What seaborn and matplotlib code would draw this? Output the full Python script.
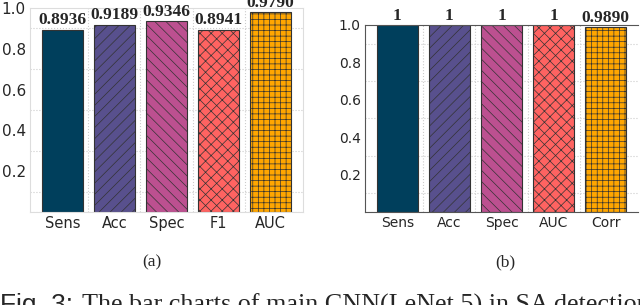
import matplotlib
matplotlib.use("Agg")
import numpy as np
import pandas as pd
import seaborn as sns
import matplotlib.pyplot as plt
from matplotlib.ticker import MultipleLocator, FixedLocator

sns.set_style("white")

# data
metrics_a = ["Sens", "Acc", "Spec", "F1", "AUC"]
values_a = [0.8936, 0.9189, 0.9346, 0.8941, 0.9790]
labels_a = ["0.8936", "0.9189", "0.9346", "0.8941", "0.9790"]

metrics_b = ["Sens", "Acc", "Spec", "AUC", "Corr"]
values_b = [1.0, 1.0, 1.0, 1.0, 0.9890]
labels_b = ["1", "1", "1", "1", "0.9890"]

colors = ["#003f5c", "#58508d", "#bc5090", "#ff6361", "#ffa600"]
hatches = ["", "///", "\\\\\\", "xxx", "+++"]

plt.rcParams["hatch.linewidth"] = 0.5
plt.rcParams["hatch.color"] = (0.1, 0.1, 0.1, 0.6)

fig = plt.figure(figsize=(6.4, 3.05), dpi=100)
ax1 = fig.add_axes([30 / 640, 93 / 305, 273 / 640, 204 / 305])
ax2 = fig.add_axes([365 / 640, 93 / 305, 273 / 640, 187 / 305])


def draw(ax, metrics, values, labels, ytick_size, xtick_size, spine_col):
    df = pd.DataFrame({"metric": metrics, "value": values})
    sns.barplot(data=df, x="metric", y="value", hue="metric", palette=colors,
                legend=False, width=0.78, edgecolor="#333333", linewidth=0.8,
                saturation=1, ax=ax)
    for p, h in zip(ax.patches, hatches):
        p.set_hatch(h)
    for i, (v, t) in enumerate(zip(values, labels)):
        ax.text(i, v + 0.006, t, ha="center", va="bottom",
                family="Liberation Serif", fontweight="bold", fontsize=12.5,
                clip_on=False)
    ax.set_xlim(-0.62, 4.62)
    ax.set_ylim(0, 1.0)
    ax.yaxis.set_major_locator(FixedLocator([0.2, 0.4, 0.6, 0.8, 1.0]))
    ax.yaxis.set_minor_locator(MultipleLocator(0.1))
    ax.xaxis.set_minor_locator(FixedLocator([0.5, 1.5, 2.5, 3.5]))
    ax.grid(which="minor", axis="both", color="#cccccc", linestyle=":",
            linewidth=0.8)
    ax.set_axisbelow(True)
    ax.set_xlabel("")
    ax.set_ylabel("")
    ax.tick_params(axis="y", labelsize=ytick_size, length=0, pad=3)
    ax.tick_params(axis="x", labelsize=xtick_size, length=0, pad=3)
    ax.tick_params(which="minor", length=0)
    for s in ax.spines.values():
        s.set_color(spine_col)
        s.set_linewidth(0.8)


draw(ax1, metrics_a, values_a, labels_a, 11, 10.5, "#dddddd")
draw(ax2, metrics_b, values_b, labels_b, 10, 10, "#555555")
ax2.spines["right"].set_visible(False)

fig.text(152 / 640, 1 - 262 / 305, "(a)", ha="center", va="center",
         family="Liberation Serif", fontsize=12.5)
fig.text(505 / 640, 1 - 262 / 305, "(b)", ha="center", va="center",
         family="Liberation Serif", fontsize=12.5)
fig.text(0.0, 1 - 312 / 305, "Fig. 3:", ha="left", va="baseline",
         family="Liberation Sans", fontsize=19)
fig.text(82 / 640, 1 - 312 / 305, "The bar charts of main CNN(LeNet 5) in SA detection",
         ha="left", va="baseline", family="Liberation Serif", fontsize=18.8)

fig.savefig("out.png", dpi=100)
